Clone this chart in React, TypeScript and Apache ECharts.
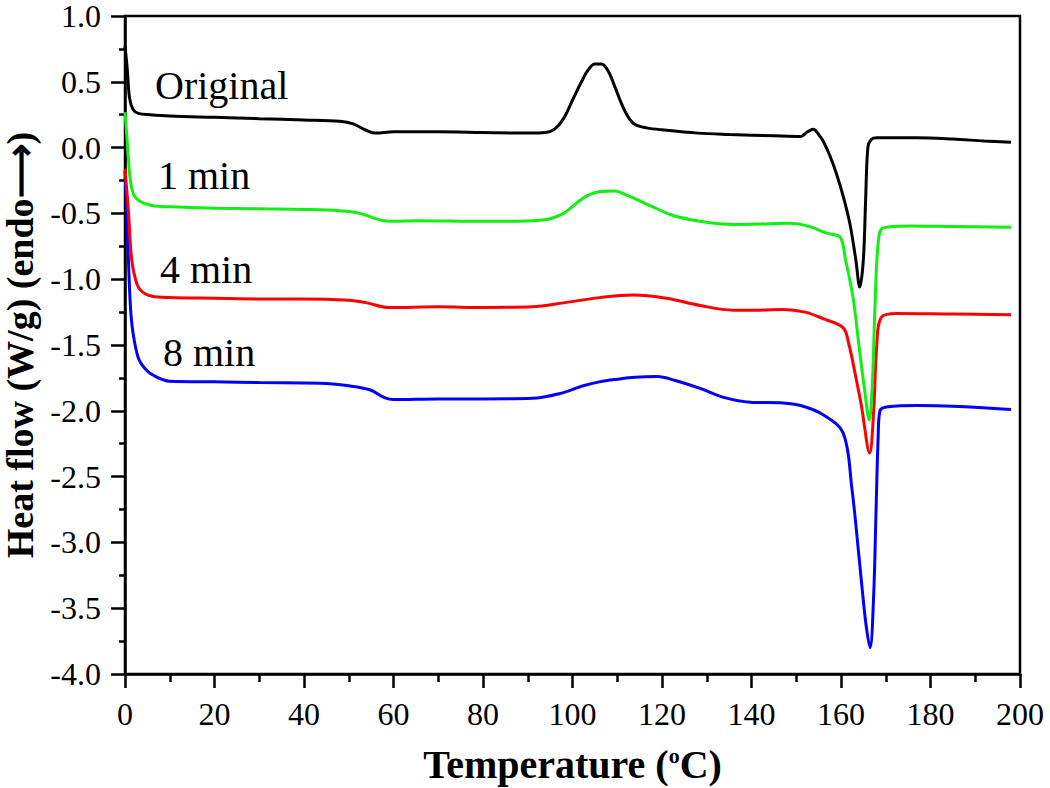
import React, { useEffect, useRef } from "react";
import * as echarts from "echarts";

const xTicks = [0, 20, 40, 60, 80, 100, 120, 140, 160, 180, 200];
const yTicks = [-4.0, -3.5, -3.0, -2.5, -2.0, -1.5, -1.0, -0.5, 0.0, 0.5, 1.0];

const seriesNames = ["Original", "1 min", "4 min", "8 min"];
const seriesColors = ["#000000", "#12f012", "#ff0000", "#0000ff"];

const original: [number, number][] = [
  [0, 0.77], [0.5, 0.6], [1, 0.38], [1.8, 0.29], [3, 0.26], [5.6, 0.25], [10, 0.24], [20, 0.23],
  [30, 0.22], [40, 0.21], [48, 0.2], [51, 0.18], [54, 0.13], [56, 0.11], [60, 0.12], [70, 0.12],
  [80, 0.115], [90, 0.11], [94, 0.115], [96, 0.14], [98, 0.22], [100, 0.36], [102, 0.5], [103.5, 0.59],
  [105, 0.635], [106.5, 0.635], [108, 0.58], [109.5, 0.46], [111, 0.33], [112.5, 0.23], [114, 0.175],
  [116.6, 0.15], [120, 0.135], [128, 0.11], [135, 0.1], [145, 0.09], [151, 0.085], [152.5, 0.12],
  [153.8, 0.14], [155, 0.1], [156, 0.05], [157.5, -0.06], [159, -0.2], [160.5, -0.37], [162, -0.58],
  [163.3, -0.85], [164.2, -1.06], [165, -0.85], [165.5, -0.4], [166, 0.0], [166.7, 0.06], [168, 0.075],
  [177, 0.075], [185, 0.065], [192, 0.05], [198, 0.04],
];

const min1: [number, number][] = [
  [0, 0.27], [0.6, 0.0], [1.2, -0.25], [2, -0.36], [3.4, -0.41], [6, -0.44], [10, -0.45], [20, -0.46],
  [30, -0.465], [40, -0.47], [48, -0.48], [52.5, -0.5], [56, -0.54], [59.2, -0.56], [65, -0.555],
  [80, -0.56], [91, -0.555], [95, -0.54], [98, -0.5], [101, -0.42], [103, -0.37], [106, -0.335],
  [109.5, -0.33], [112, -0.36], [117.3, -0.44], [122, -0.51], [128.5, -0.56], [136, -0.585],
  [142, -0.58], [148.6, -0.575], [153, -0.6], [156.8, -0.65], [159.8, -0.68], [161, -0.85],
  [162.7, -1.14], [164, -1.5], [165.3, -1.85], [166.3, -2.07], [167, -1.8], [167.6, -1.2],
  [168.3, -0.73], [169.4, -0.61], [175, -0.595], [185, -0.6], [198, -0.605],
];

const min4: [number, number][] = [
  [0, -0.16], [0.8, -0.5], [1.5, -0.85], [2.7, -1.04], [4, -1.1], [6, -1.13], [10, -1.14], [20, -1.145],
  [30, -1.15], [39, -1.15], [50, -1.16], [54, -1.18], [59, -1.215], [70, -1.21], [80, -1.215],
  [91, -1.21], [98, -1.18], [106, -1.14], [113.6, -1.12], [121, -1.145], [128.5, -1.2], [136, -1.235],
  [142, -1.235], [147, -1.23], [152, -1.25], [156, -1.3], [160.5, -1.37], [161.8, -1.5], [162.7, -1.64],
  [164.5, -1.95], [166.4, -2.32], [167.3, -2.0], [168, -1.5], [169, -1.29], [172.5, -1.26],
  [185, -1.265], [198, -1.27],
];

const min8: [number, number][] = [
  [0, -0.18], [0.6, -0.7], [1.2, -1.2], [1.8, -1.41], [3, -1.6], [4.5, -1.68], [6.3, -1.73], [10, -1.775],
  [20, -1.78], [30, -1.785], [43.6, -1.79], [50, -1.81], [54.7, -1.84], [58, -1.9], [60, -1.915],
  [70, -1.91], [80, -1.91], [91, -1.905], [97, -1.87], [102.4, -1.81], [106, -1.78], [110, -1.76],
  [114, -1.745], [118.9, -1.74], [123, -1.77], [128.5, -1.83], [134, -1.9], [139.7, -1.935],
  [147, -1.94], [151, -1.96], [156, -2.03], [160.5, -2.17], [162.4, -2.58], [164, -3.1], [165.5, -3.6],
  [166.5, -3.8], [167.3, -3.4], [167.8, -2.8], [168.3, -2.2], [168.7, -2.0], [170.5, -1.97],
  [177, -1.96], [185, -1.965], [198, -1.99],
];

const allData = [original, min1, min4, min8];

const FONT = "'Liberation Serif', 'Times New Roman', serif";

export default function App() {
  const ref = useRef<HTMLDivElement>(null);
  useEffect(() => {
    if (!ref.current) return;
    const chart = echarts.init(ref.current, undefined, { renderer: "svg" });
    const labelPos = [
      { x: 155, y: 88 },
      { x: 158, y: 178 },
      { x: 160, y: 272 },
      { x: 163, y: 355 },
    ];
    chart.setOption({
      animation: false,
      backgroundColor: "#ffffff",
      grid: {
        left: 125,
        right: 30,
        top: 16,
        bottom: 114,
        show: true,
        borderColor: "#000",
        borderWidth: 2.5,
        backgroundColor: "transparent",
        containLabel: false,
        outerBoundsMode: "none",
      },
      xAxis: {
        type: "value",
        min: xTicks[0],
        max: xTicks[xTicks.length - 1],
        interval: 20,
        name: "Temperature ({sup|o}C)",
        nameLocation: "middle",
        nameGap: 70,
        nameTextStyle: {
          fontFamily: FONT,
          fontWeight: "bold",
          fontSize: 40,
          color: "#000",
          rich: {
            sup: {
              fontFamily: FONT,
              fontWeight: "bold",
              fontSize: 22,
              color: "#000",
              verticalAlign: "top",
              padding: [0, 0, 18, 0],
            },
          },
        },
        axisLine: { show: true, onZero: false, lineStyle: { color: "#000", width: 2.5 } },
        axisTick: { show: true, inside: false, length: 14, lineStyle: { color: "#000", width: 2.5 } },
        minorTick: { show: true, splitNumber: 2, length: 8, lineStyle: { color: "#000", width: 2.5 } },
        axisLabel: {
          fontFamily: FONT,
          fontSize: 32,
          color: "#000",
          margin: 24,
          formatter: (v: number) => String(Math.round(v)),
        },
        splitLine: { show: false },
      },
      yAxis: {
        type: "value",
        min: yTicks[0],
        max: yTicks[yTicks.length - 1],
        interval: 0.5,
        name: "Heat flow (W/g) (endo\u27F6)",
        nameLocation: "middle",
        nameRotate: 90,
        nameGap: 84,
        nameTextStyle: {
          fontFamily: FONT,
          fontWeight: "bold",
          fontSize: 38,
          color: "#000",
        },
        axisLine: { show: true, onZero: false, lineStyle: { color: "#000", width: 2.5 } },
        axisTick: { show: true, inside: false, length: 14, lineStyle: { color: "#000", width: 2.5 } },
        minorTick: { show: true, splitNumber: 2, length: 6, lineStyle: { color: "#000", width: 2.5 } },
        axisLabel: {
          fontFamily: FONT,
          fontSize: 32,
          lineHeight: 26,
          color: "#000",
          margin: 24,
          formatter: (v: number) => v.toFixed(1),
        },
        splitLine: { show: false },
      },
      series: allData.map((d, i) => ({
        name: seriesNames[i],
        type: "line",
        data: d,
        showSymbol: false,
        symbol: "none",
        smooth: 0.35,
        lineStyle: { color: seriesColors[i], width: 3 },
        itemStyle: { color: seriesColors[i] },
        z: 10 - i,
      })),
      graphic: seriesNames.map((n, i) => ({
        type: "text",
        left: labelPos[i].x,
        top: labelPos[i].y - 23,
        style: {
          text: n,
          fontFamily: FONT,
          fontSize: 40,
          fill: "#000",
        },
      })),
    });
    return () => chart.dispose();
  }, []);
  return (
    <div
      ref={ref}
      style={{ position: "fixed", left: 0, top: 0, width: 1050, height: 788, background: "#fff" }}
    />
  );
}
